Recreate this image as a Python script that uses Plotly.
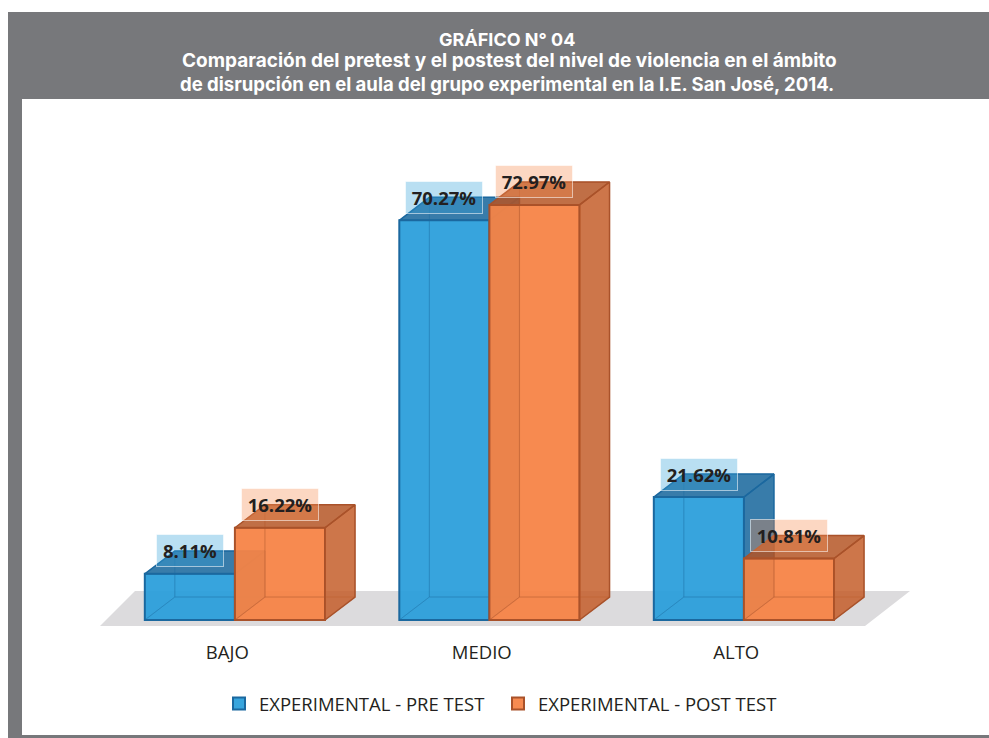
"""
    plot.py - pretest / postest comparison, 3D looking bars
"""
import plotly.graph_objs as go

categories = ["BAJO", "MEDIO", "ALTO"]
pre_test = [8.11, 70.27, 21.62]
post_test = [16.22, 72.97, 10.81]
pre_name = "EXPERIMENTAL - PRE TEST"
post_name = "EXPERIMENTAL - POST TEST"
title_lines = [
    "GRÁFICO N° 04",
    "Comparación del pretest y el postest del nivel de violencia en el ámbito",
    "de disrupción en el aula del grupo experimental en la I.E. San José, 2014.",
]

WIDTH = 989
HEIGHT = 738
GREY = "#77787B"

# axis scale: 254.5 px per category, 5.687 px per percent point
X_RANGE = [-0.923, 2.963]
Y_RANGE = [-3.34, 91.6]
BAR_WIDTH = 0.354
DEPTH_X = 0.118
DEPTH_Y = 4.04
LABEL_SHIFT = 0.03

BLUE = {
    "front": "rgba(41,158,218,0.93)",
    "side": "rgba(28,106,158,0.88)",
    "top": "rgba(28,106,158,0.88)",
    "back": "rgba(41,158,218,0.12)",
    "edge": "#1B689F",
    "box": "rgba(54,163,219,0.35)",
}
ORANGE = {
    "front": "rgba(246,132,70,0.94)",
    "side": "rgba(196,92,40,0.84)",
    "top": "rgba(180,84,36,0.84)",
    "back": "rgba(244,128,64,0.12)",
    "edge": "#A9522A",
    "box": "rgba(245,140,80,0.35)",
}


def px_x(x):
    return x / WIDTH


def px_y(y):
    return 1 - y / HEIGHT


def add_series(fig, name, values, offset, colors, xaxis, yaxis):
    """Add the front bars and the depth faces of one series."""
    x_left = [i + offset for i in range(len(values))]
    fig.add_trace(
        go.Bar(
            name=name,
            x=[x + BAR_WIDTH / 2 for x in x_left],
            y=values,
            width=BAR_WIDTH,
            marker={"color": colors["front"], "line": {"color": colors["edge"], "width": 2}},
            xaxis=xaxis,
            yaxis=yaxis,
            hoverinfo="name+y",
        )
    )
    for x0, v in zip(x_left, values):
        x1 = x0 + BAR_WIDTH
        faces = [
            ("back", [x0 + DEPTH_X, x1 + DEPTH_X, x1 + DEPTH_X, x0 + DEPTH_X, x0 + DEPTH_X],
             [DEPTH_Y, DEPTH_Y, v + DEPTH_Y, v + DEPTH_Y, DEPTH_Y]),
            ("back", [x0, x1, x1 + DEPTH_X, x0 + DEPTH_X, x0], [0, 0, DEPTH_Y, DEPTH_Y, 0]),
            ("back", [x0, x0 + DEPTH_X, x0 + DEPTH_X, x0, x0], [0, DEPTH_Y, v + DEPTH_Y, v, 0]),
            ("side", [x1, x1 + DEPTH_X, x1 + DEPTH_X, x1, x1], [0, DEPTH_Y, v + DEPTH_Y, v, 0]),
            ("top", [x0, x1, x1 + DEPTH_X, x0 + DEPTH_X, x0], [v, v, v + DEPTH_Y, v + DEPTH_Y, v]),
        ]
        for face, xs, ys in faces:
            fig.add_trace(
                go.Scatter(
                    x=xs,
                    y=ys,
                    mode="lines",
                    fill="toself",
                    fillcolor=colors[face],
                    line={"color": colors["edge"], "width": 1 if face == "back" else 1.5},
                    opacity=0.25 if face == "back" else 1,
                    showlegend=False,
                    hoverinfo="skip",
                    xaxis=xaxis,
                    yaxis=yaxis,
                )
            )


def value_labels(values, offset, colors, xref, yref):
    """Percent labels in their translucent boxes, one depth step above the bar."""
    labels = []
    for i, v in enumerate(values):
        labels.append(
            {
                "x": i + offset + BAR_WIDTH / 2,
                "y": v + DEPTH_Y,
                "xref": xref,
                "yref": yref,
                "text": f"<b>{v:.2f}%</b>",
                "showarrow": False,
                "width": 76 if v >= 10 else 66,
                "height": 31,
                "bgcolor": colors["box"],
                "bordercolor": "rgba(255,255,255,0.55)",
                "borderwidth": 1,
                "borderpad": 0,
                "font": {"family": "Open Sans", "size": 18.5, "color": "#231F20"},
            }
        )
    return labels


def title_line(text, x, y, size):
    return {
        "x": px_x(x),
        "y": px_y(y),
        "xref": "paper",
        "yref": "paper",
        "xanchor": "center",
        "yanchor": "middle",
        "text": f"<b>{text}</b>",
        "showarrow": False,
        "font": {"family": "Inter", "size": size, "color": "white"},
    }


fig = go.Figure()
add_series(fig, pre_name, pre_test, -BAR_WIDTH, BLUE, "x", "y")
add_series(fig, post_name, post_test, 0, ORANGE, "x2", "y2")

axis_y = {"range": Y_RANGE, "domain": [px_y(639), px_y(99)], "visible": False, "fixedrange": True}
paper = {"xref": "paper", "yref": "paper", "line": {"width": 0}, "layer": "below"}
shapes = [
    # frame of the page
    {"type": "rect", "x0": px_x(8), "x1": 1, "y0": px_y(99), "y1": px_y(12), "fillcolor": GREY, **paper},
    {"type": "rect", "x0": px_x(8), "x1": px_x(22), "y0": px_y(735), "y1": px_y(99), "fillcolor": GREY, **paper},
    {"type": "rect", "x0": px_x(8), "x1": 1, "y0": 0, "y1": px_y(735), "fillcolor": GREY, **paper},
    # floor under the bars
    {"type": "path", "path": f"M {px_x(100)} {px_y(626)} L {px_x(135)} {px_y(591)} "
     f"L {px_x(910)} {px_y(591)} L {px_x(865)} {px_y(626)} Z",
     "fillcolor": "#DCDBDD", **paper},
]

annotations = [
    title_line(title_lines[0], 507, 39, 18),
    title_line(title_lines[1], 509, 61, 19),
    title_line(title_lines[2], 506.5, 84, 18.55),
]
annotations += value_labels(pre_test, -BAR_WIDTH, BLUE, "x", "y")
annotations += value_labels(post_test, 0, ORANGE, "x2", "y2")

fig.update_layout(
    width=WIDTH,
    height=HEIGHT,
    margin={"l": 0, "r": 0, "t": 0, "b": 0},
    paper_bgcolor="white",
    plot_bgcolor="rgba(0,0,0,0)",
    barmode="overlay",
    shapes=shapes,
    annotations=annotations,
    xaxis={
        "range": X_RANGE,
        "tickvals": [i - LABEL_SHIFT for i in range(len(categories))],
        "ticktext": categories,
        "showgrid": False,
        "zeroline": False,
        "showline": False,
        "ticks": "",
        "tickfont": {"family": "Open Sans", "size": 18.5, "color": "#231F20"},
        "fixedrange": True,
    },
    xaxis2={"range": X_RANGE, "overlaying": "x", "visible": False, "fixedrange": True},
    yaxis=axis_y,
    yaxis2={**axis_y, "overlaying": "y"},
    legend={
        "orientation": "h",
        "x": px_x(219),
        "y": px_y(704),
        "xanchor": "left",
        "yanchor": "middle",
        "entrywidth": 234,
        "font": {"family": "Open Sans", "size": 18.5, "color": "#231F20"},
        "itemclick": False,
        "itemdoubleclick": False,
    },
)

fig.write_html(
    "out.html",
    config={"displayModeBar": False},
    post_script="document.body.style.margin='0';document.body.style.overflow='hidden';",
)
